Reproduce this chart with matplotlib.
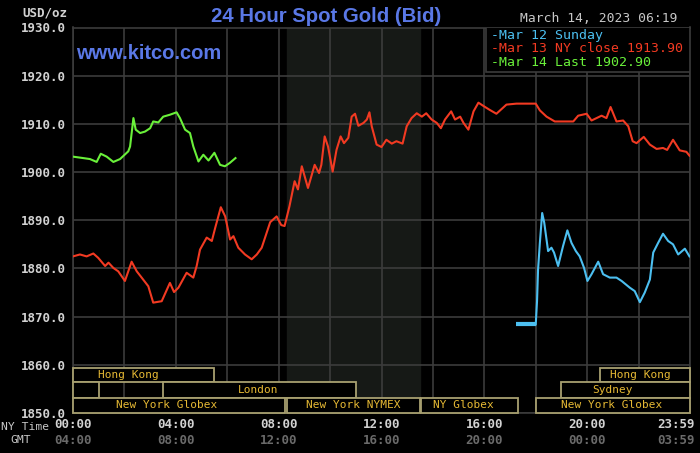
import numpy as np
import matplotlib
matplotlib.use('Agg')
import matplotlib.pyplot as plt
from matplotlib.patches import Rectangle
import matplotlib.transforms as mtransforms

# ---- data (hours NY time, USD/oz) ----
green_t = [0, 0.4, 0.66, 0.92, 1.08, 1.31, 1.57, 1.83, 2.15, 2.22, 2.35, 2.44, 2.61, 2.8, 3.0,
           3.12, 3.32, 3.51, 3.77, 4.03, 4.16, 4.36, 4.55, 4.68, 4.88, 5.07, 5.27, 5.5, 5.72,
           5.91, 6.1, 6.32]
green_p = [1903.2, 1902.9, 1902.7, 1902.1, 1903.8, 1903.2, 1902.1, 1902.7, 1904.3, 1905.3, 1911.2,
           1908.8, 1908.1, 1908.4, 1909.1, 1910.5, 1910.3, 1911.5, 1911.9, 1912.4, 1911.2, 1908.8,
           1908.1, 1905.3, 1902.2, 1903.6, 1902.4, 1904.0, 1901.5, 1901.2, 1901.9, 1902.9]

red_t = [0, 0.27, 0.53, 0.79, 0.98, 1.25, 1.38, 1.57, 1.76, 2.02, 2.28, 2.48, 2.67, 2.93, 3.12,
         3.45, 3.77, 3.93, 4.1, 4.42, 4.68, 4.81, 4.94, 5.2, 5.4, 5.53, 5.75, 5.92, 6.11, 6.24,
         6.43, 6.69, 6.95, 7.15, 7.34, 7.67, 7.92, 8.1, 8.23, 8.42, 8.62, 8.75, 8.9, 9.14, 9.4,
         9.57, 9.66, 9.79, 9.92, 10.1, 10.25, 10.41, 10.54, 10.71, 10.84, 10.97, 11.1, 11.3,
         11.43, 11.53, 11.62, 11.81, 12.0, 12.19, 12.4, 12.58, 12.82, 12.98, 13.17, 13.37,
         13.57, 13.74, 13.95, 14.15, 14.31, 14.47, 14.71, 14.86, 15.06, 15.19, 15.38, 15.58,
         15.77, 15.97, 16.21, 16.47, 16.86, 17.25, 18.0, 18.16, 18.42, 18.74, 19.46, 19.65,
         19.98, 20.17, 20.56, 20.75, 20.91, 21.14, 21.4, 21.6, 21.77, 21.92, 22.2, 22.44, 22.7,
         22.95, 23.11, 23.34, 23.6, 23.86, 23.98]
red_p = [1882.5, 1882.9, 1882.5, 1883.1, 1882.2, 1880.5, 1881.2, 1880.1, 1879.4, 1877.4, 1881.4,
         1879.4, 1878.1, 1876.3, 1872.9, 1873.2, 1877.0, 1875.1, 1876.0, 1879.1, 1878.1, 1880.5,
         1883.9, 1886.4, 1885.7, 1888.4, 1892.7, 1890.8, 1886.0, 1886.7, 1884.3, 1882.9, 1881.9,
         1882.9, 1884.3, 1889.6, 1890.8, 1889.0, 1888.8, 1892.9, 1898.1, 1896.4, 1901.2, 1896.7,
         1901.5, 1899.8, 1901.5, 1907.4, 1905.3, 1900.1, 1904.6, 1907.4, 1906.0, 1907.1, 1911.5,
         1912.1, 1909.6, 1910.2, 1910.9, 1912.4, 1909.5, 1905.7, 1905.2, 1906.7, 1905.9, 1906.4,
         1905.9, 1909.5, 1911.2, 1912.2, 1911.5, 1912.2, 1910.9, 1910.2, 1909.1, 1910.9, 1912.6,
         1910.9, 1911.5, 1910.2, 1908.8, 1912.6, 1914.4, 1913.7, 1912.9, 1912.1, 1914.0, 1914.2,
         1914.2, 1912.8, 1911.5, 1910.5, 1910.5, 1911.7, 1912.1, 1910.7, 1911.7, 1911.2, 1913.5,
         1910.5, 1910.7, 1909.5, 1906.4, 1906.0, 1907.3, 1905.7, 1904.8, 1905.0, 1904.6, 1906.7,
         1904.5, 1904.2, 1903.4]

blue_t = [17.25, 18.0, 18.05, 18.09, 18.16, 18.25, 18.33, 18.48, 18.61, 18.71, 18.87, 19.06,
          19.23, 19.39, 19.56, 19.71, 19.88, 20.01, 20.17, 20.43, 20.62, 20.88, 21.14, 21.34,
          21.66, 21.85, 22.05, 22.24, 22.44, 22.57, 22.76, 22.95, 23.15, 23.34, 23.54, 23.8, 23.98]
blue_p = [1868.4, 1868.4, 1873.2, 1879.8, 1885.3, 1891.5, 1889.5, 1883.6, 1884.3, 1883.3, 1880.5,
          1884.6, 1887.9, 1885.3, 1883.6, 1882.5, 1880.1, 1877.4, 1878.8, 1881.4, 1878.8, 1878.1,
          1878.1, 1877.4, 1876.0, 1875.3, 1873.0, 1875.0, 1877.7, 1883.3, 1885.3, 1887.2, 1885.7,
          1885.0, 1882.9, 1884.1, 1882.5]

legend_labels = ['Mar 12 Sunday', 'Mar 13 NY close 1913.90', 'Mar 14 Last 1902.90']

ny_ticks = [0, 4, 8, 12, 16, 20, 24]
ny_labels = ['00:00', '04:00', '08:00', '12:00', '16:00', '20:00', '23:59']
gmt_labels = ['04:00', '08:00', '12:00', '16:00', '20:00', '00:00', '03:59']

# sessions: (row, start, end, label, label x)
sessions = [
    (2, 0, 5.5, 'Hong Kong', 2.14),
    (2, 20.5, 24, 'Hong Kong', 22.06),
    (1, 0, 1.0, '', 0),
    (1, 3.5, 11.0, 'London', 7.2),
    (1, 19.0, 24, 'Sydney', 20.97),
    (0, 0, 8.25, 'New York Globex', 3.66),
    (0, 8.33, 13.5, 'New York NYMEX', 10.9),
    (0, 13.52, 17.3, 'NY Globex', 15.19),
    (0, 18.0, 24, 'New York Globex', 20.97),
]

BLUE = '#4cbff0'
RED = '#f23a22'
GREEN = '#6af03a'
GRID = '#3c3c3c'
GOLD = '#e6b934'
BOXC = '#a8a070'
MONO = 'DejaVu Sans Mono'

fig = plt.figure(figsize=(7, 4.53), dpi=100, facecolor='black')
ax = fig.add_axes([73 / 700, 1 - 413 / 453, 617 / 700, 385.5 / 453], facecolor='black')
ax.set_xlim(0, 24)
ax.set_ylim(1850, 1930)

# NYMEX shading
ax.axvspan(8.33, 13.5, color='#161916', zorder=0)

ax.set_xticks(np.arange(0, 25, 2))
ax.set_yticks(np.arange(1850, 1931, 10))
ax.grid(True, color=GRID, lw=1.2)
ax.set_axisbelow(True)
for s in ax.spines.values():
    s.set_color(GRID)
    s.set_linewidth(1.2)
ax.tick_params(length=0, labelbottom=False)
ax.set_yticklabels(['%.1f' % v for v in np.arange(1850, 1931, 10)],
                   fontfamily=MONO, fontweight='bold', fontsize=9, color='#d2d2d2')
ax.tick_params(axis='y', pad=5)

# series
ax.plot(red_t, red_p, color=RED, lw=1.5, zorder=3)
ax.plot(green_t, green_p, color=GREEN, lw=1.5, zorder=3)
ax.plot(blue_t[:2], blue_p[:2], color=BLUE, lw=3.0, zorder=3, solid_capstyle='butt')
ax.plot(blue_t[1:], blue_p[1:], color=BLUE, lw=1.5, zorder=3)

# session bars
row_edges = [1850, 1853.2, 1856.4, 1859.4]
for row, a, b, lab, lx in sessions:
    ax.add_patch(Rectangle((a, row_edges[row]), b - a, row_edges[row + 1] - row_edges[row],
                           facecolor='black', edgecolor=BOXC, lw=1.3, zorder=4, clip_on=False))
    if lab:
        ax.text(lx, (row_edges[row] + row_edges[row + 1]) / 2, lab, color=GOLD,
                fontfamily=MONO, fontsize=8, ha='center', va='center', zorder=5)

# legend box
ax.add_patch(Rectangle((16.06, 1920.8), 24 - 16.06, 9.2, facecolor='black',
                       edgecolor=GRID, lw=1.2, zorder=6))
for i, (lab, c) in enumerate(zip(legend_labels, [BLUE, RED, GREEN])):
    fig.text(491 / 700, 1 - (35 + 14 * i) / 453, '-' + lab, color=c, fontfamily=MONO,
             fontsize=9.5, va='center', ha='left', zorder=7)

# x labels
xt = ax.get_xaxis_transform()
for t, l1, l2 in zip(ny_ticks, ny_labels, gmt_labels):
    off = -14 if t == 24 else 0
    tr = mtransforms.offset_copy(xt, fig=fig, x=off, y=0, units='dots')
    ax.text(t, (413 - 425) / 385.5, l1, transform=tr, ha='center', va='center',
            fontfamily=MONO, fontweight='bold', fontsize=9, color='#d2d2d2')
    ax.text(t, (413 - 440) / 385.5, l2, transform=tr, ha='center', va='center',
            fontfamily=MONO, fontweight='bold', fontsize=9, color='#6a6a6a')

fig.text(25 / 700, 1 - 427 / 453, 'NY Time', color='#c8c8c8', fontfamily=MONO,
         fontsize=8.2, ha='center', va='center')
fig.text(21 / 700, 1 - 440 / 453, 'GMT', color='#c8c8c8', fontfamily=MONO,
         fontsize=8.2, ha='center', va='center')

# header texts
fig.text(67 / 700, 1 - 13 / 453, 'USD/oz', color='#d2d2d2', fontfamily=MONO,
         fontweight='bold', fontsize=9, ha='right', va='center')
fig.text(326.5 / 700, 1 - 21.7 / 453, '24 Hour Spot Gold (Bid)', color='#5a78e6',
         fontfamily='Liberation Sans', fontweight='bold', fontsize=14.7, ha='center',
         va='baseline')
fig.text(76 / 700, 1 - 59.3 / 453, 'www.kitco.com', color='#5a78e6',
         fontfamily='Liberation Sans', fontweight='bold', fontsize=14.5, ha='left',
         va='baseline', zorder=7)
fig.text(678 / 700, 1 - 19 / 453, 'March 14, 2023 06:19', color='#c8c8c8',
         fontfamily=MONO, fontsize=9.4, ha='right', va='center')

fig.savefig('out.png', dpi=100, facecolor='black')
